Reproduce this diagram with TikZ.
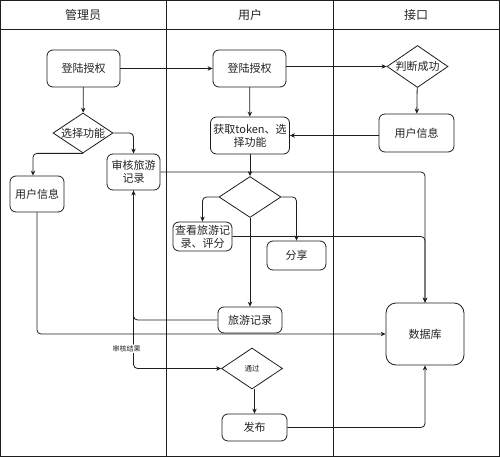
\documentclass[tikz,border=0pt]{standalone}
\usepackage{fontspec}
\newfontfamily\cjk{Noto Sans CJK SC}
\usetikzlibrary{shapes.geometric,arrows.meta}
\definecolor{txt}{RGB}{35,35,35}
\definecolor{ln}{RGB}{30,30,30}
\begin{document}
\begin{tikzpicture}[x=1pt,y=-1pt,
  box/.style={draw=ln, rounded corners=6pt, fill=white, inner sep=0pt, align=center, text=txt,
    font=\cjk\fontsize{11}{13}\selectfont, line width=0.8pt},
  dia/.style={draw=ln, diamond, shape aspect=1.5, fill=white, inner sep=0pt, align=center, text=txt,
    font=\cjk\fontsize{11}{13}\selectfont, line width=0.8pt},
  arr/.style={draw=ln, line width=0.8pt, -{Stealth[length=5pt,width=4.5pt]}, rounded corners=4pt},
  lane/.style={draw=ln, line width=1pt},
  head/.style={text=txt, font=\cjk\fontsize{12}{14}\selectfont, inner sep=0pt},
  lbl/.style={fill=white, text=txt, font=\cjk\fontsize{7}{8}\selectfont, inner sep=1pt}]
\useasboundingbox (0,0) rectangle (500,457);
% frame and lanes
\draw[lane] (0.5,0.5) rectangle (499.5,456.5);
\draw[lane] (0.5,30) -- (499.5,30);
\draw[lane] (166,0.5) -- (166,456.5);
\draw[lane] (333,0.5) -- (333,456.5);
\node[head] (h1) at (83,15) {管理员};
\node[head] (h2) at (250,15) {用户};
\node[head] (h3) at (416,15) {接口};
% admin lane
\node[box, minimum width=73pt, minimum height=37pt] (alogin) at (83.5,68.5) {登陆授权};
\node[dia, minimum width=60pt, minimum height=40pt] (choose) at (83,133) {选择功能};
\node[box, minimum width=54pt, minimum height=36pt] (ainfo) at (37,194) {用户信息};
\node[box, minimum width=53pt, minimum height=36pt] (audit) at (133.5,172) {审核旅游\\记录};
% user lane
\node[box, minimum width=73pt, minimum height=37pt] (ulogin) at (249.5,68.5) {登陆授权};
\node[box, minimum width=79pt, minimum height=37pt] (token) at (250,135.5) {获取token、选\\择功能};
\node[dia, minimum width=62pt, minimum height=41pt] (dec) at (250,197) {};
\node[box, minimum width=59pt, minimum height=29pt] (view) at (202.5,236.5) {查看旅游记\\录、评分};
\node[box, minimum width=59pt, minimum height=29pt] (share) at (296.5,255.5) {分享};
\node[box, minimum width=64pt, minimum height=26pt] (trec) at (250,320) {旅游记录};
\node[dia, minimum width=61pt, minimum height=41pt, font=\cjk\fontsize{7.5}{9}\selectfont] (pass) at (252,368.5) {通过};
\node[box, minimum width=65pt, minimum height=27pt] (pub) at (254.5,427.5) {发布};
% interface lane
\node[dia, minimum width=61pt, minimum height=42pt] (judge) at (417.5,66.5) {判断成功};
\node[box, minimum width=75pt, minimum height=38pt] (iinfo) at (416.5,133) {用户信息};
\node[box, minimum width=78pt, minimum height=62pt, rounded corners=10pt] (db) at (425,334) {数据库};
% connectors
\draw[arr] (alogin) -- (ulogin);
\draw[arr] (ulogin.east |- judge.west) -- (judge.west);
\draw[arr] (alogin) -- (choose);
\draw[arr] (choose.south) -| ([xshift=-4pt]ainfo.north);
\draw[arr] (choose.east) -| (audit.north);
\draw[arr] (judge) -- (iinfo);
\draw[arr] (iinfo.west |- token.east) -- (token.east);
\draw[arr] (ulogin) -- (token);
\draw[arr] (token) -- (dec);
\draw[arr] (audit.east) -| (db.north);
\draw[arr] (view.east) -| (db.north);
\draw[arr] (dec.west) -| (view.north);
\draw[arr] (dec.east) -| (share.north);
\draw[arr] (dec.south) -- (trec.north);
\draw[arr] (trec.west) -| (audit.south);
\draw[arr] (audit.south) |- node[pos=0.444, xshift=-7pt, lbl] {审核结果} (pass.west);
\draw[arr] (ainfo.south) |- (db.west);
\draw[arr] (pass.south -| pub.north) -- (pub.north);
\draw[arr] (pub.east) -| (db.south);
\end{tikzpicture}
\end{document}
